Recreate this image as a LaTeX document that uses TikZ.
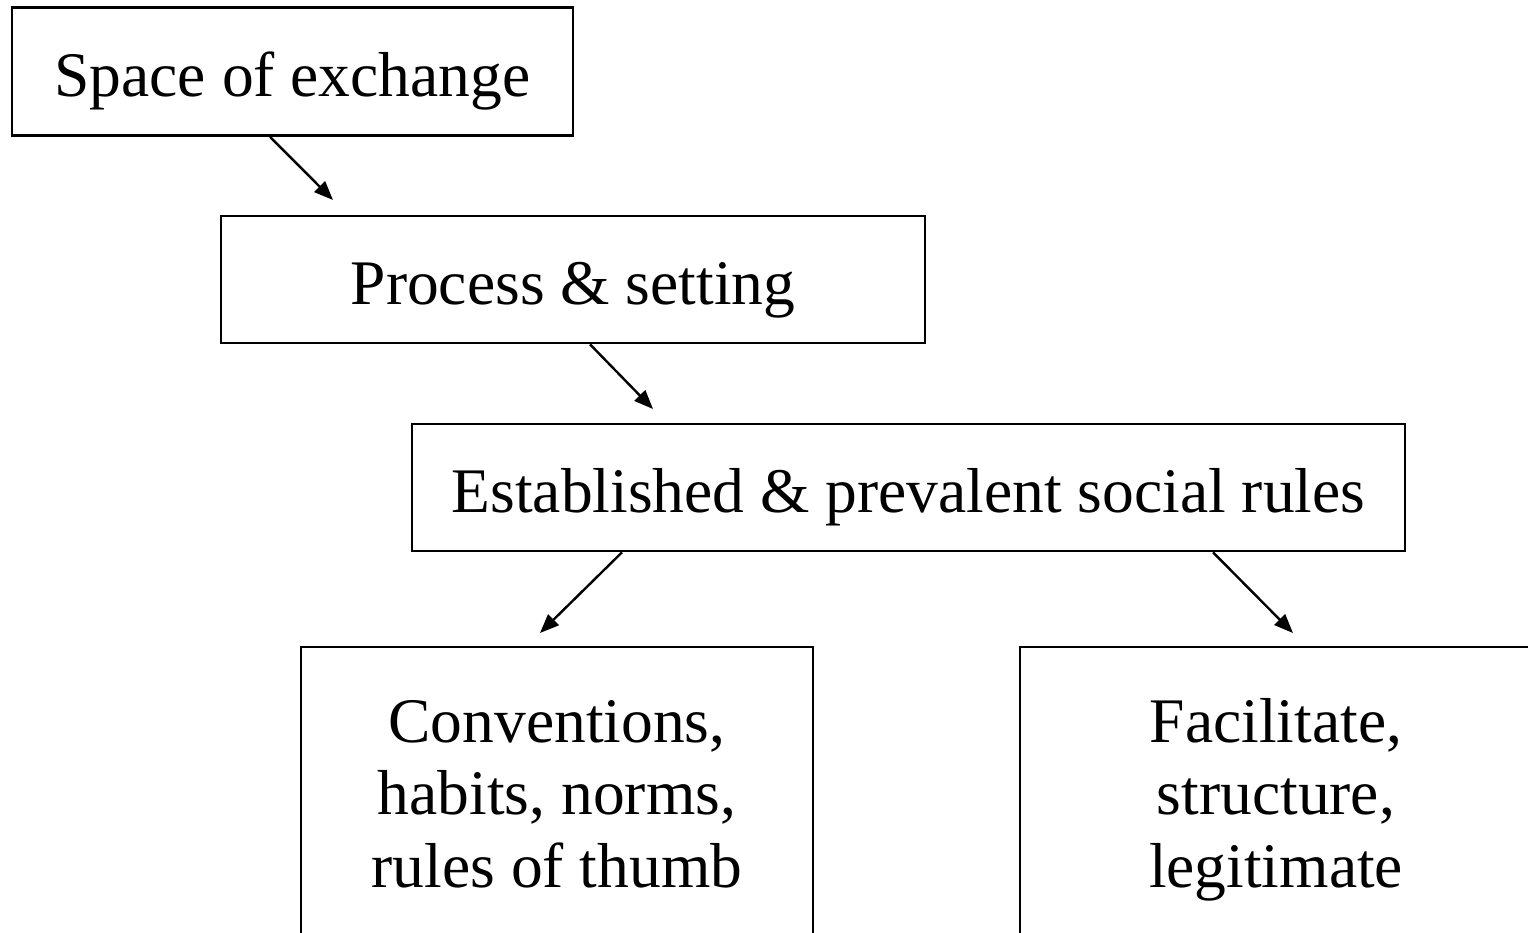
\documentclass[tikz,border=0pt]{standalone}
\usepackage{fontspec}
\setmainfont{Liberation Serif}
\usetikzlibrary{arrows.meta,calc}
\begin{document}
\begin{tikzpicture}[x=1pt,y=-1pt,
  box/.style={draw,line width=2.6pt,inner sep=0pt},
  lbl/.style={font=\fontsize{63.5}{72.5}\selectfont,align=center,inner sep=0pt},
  conn/.style={line width=2.4pt,-{Triangle[length=19pt,width=15pt]}}]
\useasboundingbox (0,0) rectangle (1528,932);
\clip (0,0) rectangle (1528,932);
\node[box,minimum width=561pt,minimum height=128pt] (b1) at (292.5,71.5) {};
\node[box,minimum width=704pt,minimum height=127pt] (b2) at (573,279.5) {};
\node[box,minimum width=993pt,minimum height=127pt] (b3) at (908.5,487.5) {};
\node[box,minimum width=512pt,minimum height=400pt] (b4) at (557,847) {};
\node[box,minimum width=512pt,minimum height=400pt] (b5) at (1276,847) {};
\node[lbl,anchor=base] (t1) at (292.5,96) {Space of exchange};
\node[lbl,anchor=base] (t2) at (573,304) {Process \& setting};
\node[lbl,anchor=base] (t3) at (908.5,512) {Established \& prevalent social rules};
\node[lbl,anchor=base] (t4) at (557,887) {Conventions,\\habits, norms,\\rules of thumb};
\node[lbl,anchor=base] (t5) at (1276,887) {Facilitate,\\structure,\\legitimate};
\coordinate (s1) at (b1.south west -| 270,0);
\coordinate (e1) at (333,200);
\coordinate (s2) at (b2.south west -| 590,0);
\coordinate (e2) at (653,409);
\coordinate (s3) at (b3.south west -| 622,0);
\coordinate (e3) at (540,633);
\coordinate (s4) at (b3.south west -| 1213,0);
\coordinate (e4) at (1293,633);
\draw[conn] (s1) -- (e1);
\draw[conn] (s2) -- (e2);
\draw[conn] (s3) -- (e3);
\draw[conn] (s4) -- (e4);
\end{tikzpicture}
\end{document}
